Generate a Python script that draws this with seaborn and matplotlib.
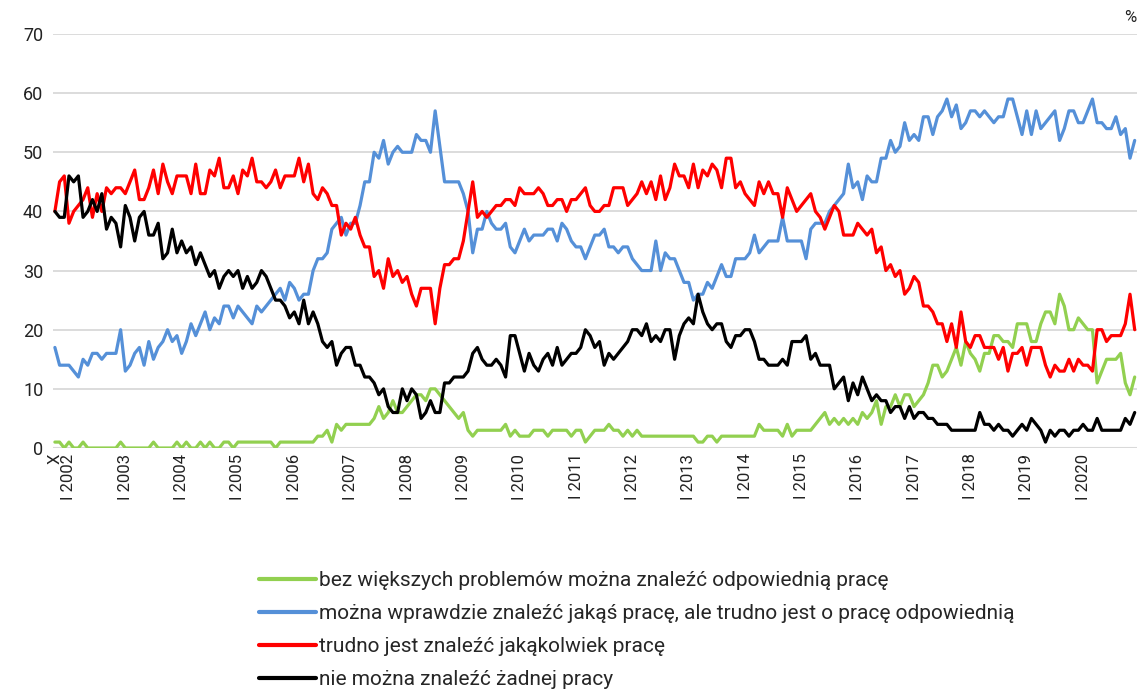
import pandas as pd
import matplotlib.pyplot as plt
import seaborn as sns
from matplotlib.lines import Line2D

# monthly survey, X 2001 - XII 2020
start_year = 2001
start_month = 10

green = [1,1,0,1,0,0,1,0,0,0, 0,0,0,0,1,0,0,0,0,0, 0,1,0,0,0,0,1,0,1,0,
         0,1,0,1,0,0,1,1,0,1, 1,1,1,1,1,1,1,
         0,1,1,1,1,1,1,1,1, 2,2,3,1,4,3, 4,4,4,4,4,4,
         5,7,5,6,8,6,6,7,8,9,9,8,10,10,9,8,7,6,5,6,3,2,3,3,
         3,3,3,3,4,2,3,2,2,2, 3,3,3,2,3,3,3,3,2,3, 3,1,2,3,3,3,4,3,3,2,
         3,2,3,2,2,2,2,2,2,2, 2,2,2,2,2,1,
         1,2,2,1,2,2,2,2,2,2, 2,2,4,3,3,3,3,2,4,2, 3,3,3,3,4,5,6,4,5,4,
         5,4,5,4,6,5,6,8,4,7, 7,9,7,9,9,7,
         8,9,11,14,14,12,13,15,17,14, 18,16,15,13,16,16,19,19,18,18,
         17,21,21,21,18,18,21,23,23,21, 26,24,20,20,22,21,20,20,11,13,
         15,15,15,16,11,9,12]

blue = [17,14,14,14,13,12,15,14,16,16, 15,16,16,16,20,13,14,16,17,14,
        18,15,17,18,20,18,19,16,18,21, 19,21,23,20,22,21,24,24,22,24,
        23,22,21,24,23,24,25,
        26,27,25,28,27,25,26,26,30,32, 32,33,37,38,39,36,38,38,41,45,
        45,50,49,52,48,50,51,50,50,50, 53,52,52,50,57,51,45,45,45,45,
        43,40,33,37,37,
        40,38,37,37,38,34,33,35,37,35, 36,36,36,37,37,35,38,37,35,34,
        34,32,34,36,36,37,34,34,33,34, 34,32,31,30,30,30,35,30,33,32,
        32,30,28,28,25,26,
        26,28,27,29,31,29,29,32,32,32, 33,36,33,34,35,35,35,39,35,35,
        35,35,32,37,38,38,38,40,41,42, 43,48,44,45,42,46,45,45,49,49,
        52,50,51,55,52,53,
        52,56,56,53,56,57,59,56,58,54, 55,57,57,56,57,56,55,56,56,59,
        59,56,53,57,53,57,54,55,56,57, 52,54,57,57,55,55,57,59,55,55,
        54,54,56,53,54,49,52]

red = [40,45,46,38,40,41,42,44,39,43, 40,44,43,44,44,43,45,47,42,42,
       44,47,43,48,45,43,46,46,46,43, 48,43,43,47,46,49,44,44,46,43,
       47,46,49,45,45,44,45,
       47,44,46,46,46,49,45,48,43,42, 44,43,41,41,36,38,37,39,36,34,
       34,29,30,27,32,29,30,28,29,26, 24,27,27,27,21,27,31,31,32,32,
       35,40,45,39,40,
       39,40,41,41,42,42,41,44,43,43, 43,44,43,41,41,42,42,40,42,42,
       43,44,41,40,40,41,41,44,44,44, 41,42,43,45,43,45,42,46,42,44,
       48,46,46,44,48,44,
       47,46,48,47,44,49,49,44,45,43, 42,41,45,43,45,43,43,39,44,42,
       40,41,42,43,40,39,37,39,41,40, 36,36,36,38,37,36,37,33,34,30,
       31,29,30,26,27,29,
       28,24,24,23,21,21,18,21,17,23, 18,17,19,19,17,17,17,15,17,13,
       16,16,17,14,17,17,17,14,12,14, 13,13,15,13,15,14,14,13,20,20,
       18,19,19,19,21,26,20]

black = [40,39,39,46,45,46,39,40,42,40, 43,37,39,38,34,41,39,35,39,40,
         36,36,38,32,33,37,33,35,33,34, 31,33,31,29,30,27,29,30,29,30,
         27,29,27,28,30,29,27,
         25,25,24,22,23,21,25,21,23,21, 18,17,18,14,16,17,17,14,14,12,
         12,11,9,10,7,6,6,10,8,10, 9,5,6,8,6,6,11,11,12,12,
         12,13,16,17,15,
         14,14,15,14,12,19,19,16,13,16, 14,13,15,16,14,17,14,15,16,16,
         17,20,19,17,18,14,16,15,16,17, 18,20,20,19,21,18,19,18,20,20,
         15,19,21,22,21,26,
         23,21,20,21,21,18,17,19,19,20, 20,18,15,15,14,14,14,15,14,18,
         18,18,19,15,16,14,14,14,10,11, 12,8,11,9,12,10,8,9,8,8,
         6,7,7,5,7,5,
         6,6,5,5,4,4,4,3,3,3, 3,3,3,6,4,4,3,4,3,3,
         2,3,4,3,5,4,3,1,3,2, 3,3,2,3,3,4,3,3,5,3,
         3,3,3,3,5,4,6]

series_names = [
    "bez większych problemów można znaleźć odpowiednią pracę",
    "można wprawdzie znaleźć jakąś pracę, ale trudno jest o pracę odpowiednią",
    "trudno jest znaleźć jakąkolwiek pracę",
    "nie można znaleźć żadnej pracy",
]
colors = ["#92D050", "#5590D8", "#FF0000", "#000000"]

frames = []
for name, vals in zip(series_names, [green, blue, red, black]):
    frames.append(pd.DataFrame({"t": range(len(vals)), "val": vals, "seria": name}))
df = pd.concat(frames, ignore_index=True)

# tick labels: X for the first month, "I yyyy" for each January
tick_pos = [0]
tick_lab = ["X"]
n = len(green)
for i in range(n):
    m = (start_month - 1 + i) % 12
    y = start_year + (start_month - 1 + i) // 12
    if m == 0:
        tick_pos.append(i)
        tick_lab.append("I " + str(y))

sns.set_style("white")
plt.rcParams['font.family'] = ['Roboto', 'DejaVu Sans']

fig = plt.figure(figsize=(11.4, 6.92), dpi=100)
ax = fig.add_axes([0.0465, 0.3526, 0.9505, 0.5983])

sns.lineplot(data=df, x="t", y="val", hue="seria", palette=colors,
             linewidth=2.3, ax=ax, legend=False)

ax.set_xlim(-0.4, n - 0.6)
ax.set_ylim(0, 70)
ax.set_yticks(range(0, 71, 10))
ax.yaxis.grid(True, color="#D9D9D9", linewidth=1.3)
ax.set_axisbelow(True)
for s in ["top", "right", "left", "bottom"]:
    ax.spines[s].set_visible(False)
ax.axhline(0, color="#D9D9D9", linewidth=1.5, zorder=0)
ax.set_xlabel("")
ax.set_ylabel("")
ax.tick_params(axis="y", length=0, labelsize=13, pad=7, colors="#222222")
ax.set_xticks(tick_pos)
ax.set_xticklabels(tick_lab, rotation=90, fontsize=12, va="top")
ax.tick_params(axis="x", length=0, pad=4, colors="#222222")

ax.text(1.0, 1.04, "%", transform=ax.transAxes, ha="right", va="center",
        fontsize=12, color="#222222")

handles = [Line2D([], [], color=c, linewidth=3) for c in colors]
fig.legend(handles, series_names, loc="upper left", bbox_to_anchor=(0.218, 0.19),
           frameon=False, fontsize=15, handlelength=2.75, handletextpad=0.15,
           labelspacing=0.68, borderpad=0)

plt.savefig("out.png", dpi=100)
